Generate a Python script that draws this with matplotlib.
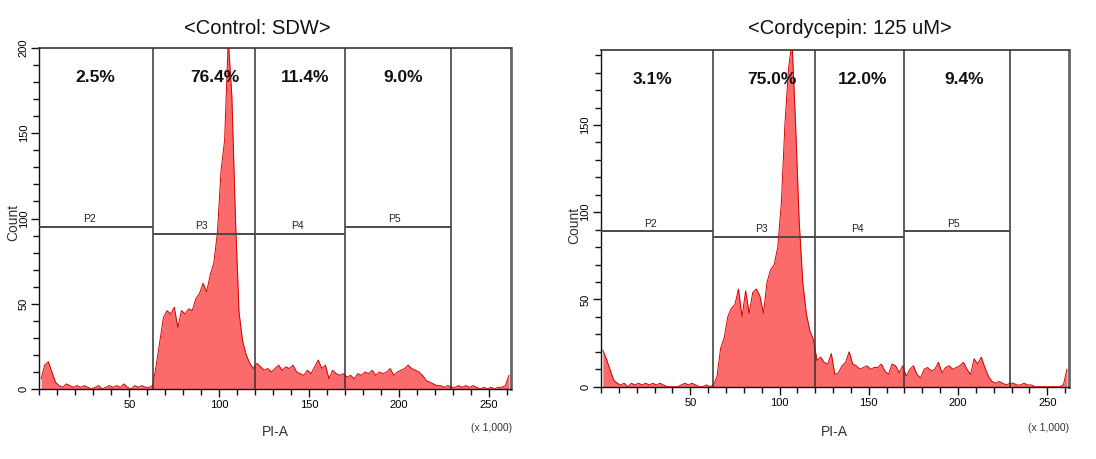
import numpy as np
import matplotlib
matplotlib.use("Agg")
import matplotlib.pyplot as plt
from matplotlib.ticker import MultipleLocator

# ---------------- data ----------------
BIN_WIDTH = 2.0  # (x 1,000) PI-A units per histogram bin, first bin centred at 1

control_counts = [
    6, 14, 16, 10, 4, 2, 1, 3, 2, 1,
    2, 1, 2, 1, 0, 1, 2, 0, 1, 2,
    1, 2, 1, 3, 1, 0, 2, 1, 2, 1,
    1, 2, 14, 28, 42, 46, 44, 48, 36, 46,
    44, 47, 46, 53, 56, 62, 57, 67, 74, 92,
    128, 146, 205, 172, 100, 45, 28, 20, 15, 12,
    15, 13, 11, 12, 10, 12, 14, 11, 13, 12,
    14, 10, 9, 8, 11, 9, 13, 17, 12, 14,
    6, 11, 9, 8, 9, 7, 8, 6, 9, 8,
    10, 9, 11, 8, 10, 9, 10, 12, 8, 10,
    11, 12, 14, 12, 11, 10, 8, 5, 4, 3,
    2, 2, 1, 2, 1, 1, 2, 1, 2, 1,
    2, 1, 0, 1, 0, 1, 0, 1, 1, 2,
    8,
]

cordycepin_counts = [
    21, 16, 10, 4, 2, 1, 2, 0, 2, 1,
    2, 1, 2, 1, 2, 1, 2, 1, 0, 0,
    0, 0, 1, 2, 1, 2, 1, 0, 0, 1,
    0, 1, 6, 22, 28, 40, 45, 47, 56, 40,
    55, 42, 54, 56, 52, 42, 60, 67, 70, 80,
    105, 150, 182, 198, 150, 95, 60, 42, 32, 27,
    15, 17, 14, 13, 19, 7, 8, 12, 14, 20,
    13, 12, 10, 11, 12, 10, 11, 11, 13, 9,
    7, 13, 12, 8, 12, 6, 10, 12, 7, 5,
    10, 11, 9, 10, 14, 8, 11, 12, 10, 11,
    12, 14, 10, 7, 16, 13, 17, 11, 6, 3,
    2, 3, 2, 1, 2, 2, 1, 1, 2, 1,
    1, 0, 0, 0, 0, 0, 0, 0, 0, 1,
    10,
]

titles = ["<Control: SDW>", "<Cordycepin: 125 uM>"]
gate_names = ["P2", "P3", "P4", "P5"]
gate_edges = [0, 63, 120, 170, 229]
control_gate_levels = [95, 91, 91, 95]
cordycepin_gate_levels = [89, 86, 86, 89]
control_pcts = ["2.5%", "76.4%", "11.4%", "9.0%"]
cordycepin_pcts = ["3.1%", "75.0%", "12.0%", "9.4%"]
control_pct_x = [31, 97.5, 148, 202.5]
cordycepin_pct_x = [29, 96, 146.5, 203.5]
gate_label_x = [28, 90, 143.5, 197.5]
x_ticks = [50, 100, 150, 200, 250]
y_ticks = [0, 50, 100, 150, 200]
X_MAX = 262.144
control_ymax = 200
cordycepin_ymax = 193

# ---------------- style ----------------
FILL = "#fb6b6b"
EDGE = "#d40000"
DARK = "#333333"
TICK_FONT = ["Liberation Sans Narrow", "Liberation Sans", "DejaVu Sans"]
MAIN_FONT = ["Liberation Sans", "DejaVu Sans"]

W, H = 1096, 459
fig = plt.figure(figsize=(W / 100, H / 100), dpi=100)


def fx(px):
    return px / W


def fy(py):
    return 1 - py / H


def panel(rect, counts, ymax, levels, pcts, pct_x):
    ax = fig.add_axes(rect)
    x = BIN_WIDTH / 2 + BIN_WIDTH * np.arange(len(counts))
    y = np.asarray(counts, dtype=float)
    ax.fill_between(x, 0, y, color=FILL, lw=0, zorder=2)
    ax.plot(x, y, color=EDGE, lw=0.7, zorder=3)
    ax.set_xlim(0, X_MAX)
    ax.set_ylim(0, ymax)

    # gates
    for e in gate_edges[1:]:
        ax.axvline(e, color=DARK, lw=1.1, zorder=4)
    for i, name in enumerate(gate_names):
        ax.hlines(levels[i], gate_edges[i], gate_edges[i + 1], color="#4a4a4a",
                  lw=1.4, zorder=4)
        ax.text(gate_label_x[i], levels[i] + 1.5, name, ha="center", va="bottom",
                fontsize=7.5, family=MAIN_FONT, color="#222222", zorder=5)
        ax.text(pct_x[i], 0.913, pcts[i], transform=ax.get_xaxis_transform(),
                ha="center", va="center", fontsize=12.5, fontweight="bold",
                family=MAIN_FONT, color="#111111", zorder=6)

    # axes styling
    for s in ["left", "bottom"]:
        ax.spines[s].set_color("#111111")
        ax.spines[s].set_linewidth(1.0)
    ax.spines["top"].set_color(DARK)
    ax.spines["top"].set_linewidth(1.2)
    ax.spines["right"].set_color("#666666")
    ax.spines["right"].set_linewidth(2.0)

    ax.set_xticks(x_ticks)
    ax.set_xticklabels([str(t) for t in x_ticks], family=TICK_FONT, fontsize=8)
    ax.xaxis.set_minor_locator(MultipleLocator(10))
    ax.set_yticks([t for t in y_ticks if t <= ymax])
    ax.set_yticklabels([str(t) for t in y_ticks if t <= ymax], family=TICK_FONT,
                       fontsize=8, rotation=90, va="center")
    ax.yaxis.set_minor_locator(MultipleLocator(10))
    ax.tick_params(which="major", direction="out", length=6, width=1.0,
                   color="#111111", pad=2)
    ax.tick_params(which="minor", direction="out", length=4.5, width=1.0,
                   color="#111111")
    ax.tick_params(axis="y", which="major", pad=1.5)
    return ax


axL = panel([fx(39.3), fy(389), fx(511) - fx(39.3), fy(48) - fy(389)],
            control_counts, control_ymax, control_gate_levels, control_pcts,
            control_pct_x)
axR = panel([fx(601), fy(386.7), fx(1069) - fx(601), fy(50) - fy(386.7)],
            cordycepin_counts, cordycepin_ymax, cordycepin_gate_levels,
            cordycepin_pcts, cordycepin_pct_x)

# titles and axis labels
fig.text(fx(257), fy(29), titles[0], ha="center", va="center", fontsize=14.5,
         family=MAIN_FONT, color="#111111")
fig.text(fx(850), fy(29), titles[1], ha="center", va="center", fontsize=14.5,
         family=MAIN_FONT, color="#111111")

for cx, cy in [(13, 222), (574, 225)]:
    fig.text(fx(cx), fy(cy), "Count", rotation=90, ha="center", va="center",
             fontsize=10, family=MAIN_FONT, color="#333333")
for cx in [275, 834]:
    fig.text(fx(cx), fy(432), "PI-A", ha="center", va="center", fontsize=10,
             family=MAIN_FONT, color="#333333")
for rx in [512, 1069]:
    fig.text(fx(rx), fy(428), "(x 1,000)", ha="right", va="center", fontsize=7.5,
             family=TICK_FONT, color="#333333")

fig.savefig("out.png", dpi=100, facecolor="white")
